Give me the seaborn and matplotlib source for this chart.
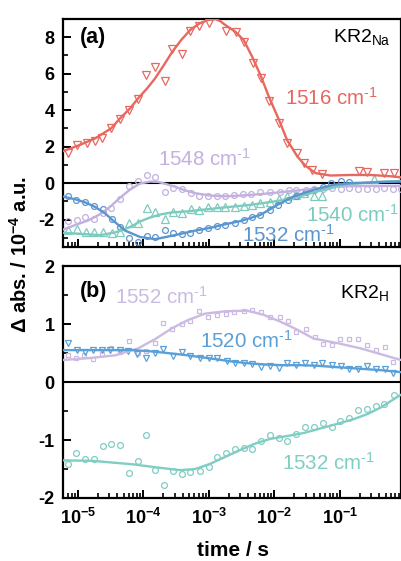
import numpy as np
import matplotlib
matplotlib.use('Agg')
import matplotlib.pyplot as plt
import seaborn as sns
from matplotlib.ticker import LogLocator, FuncFormatter, MultipleLocator, NullFormatter

sns.set_style('ticks')
plt.rcParams['font.family'] = ['Liberation Sans', 'DejaVu Sans']
plt.rcParams['mathtext.fontset'] = 'custom'
plt.rcParams['mathtext.rm'] = 'Liberation Sans'
plt.rcParams['mathtext.it'] = 'Liberation Sans:italic'
plt.rcParams['mathtext.bf'] = 'Liberation Sans:bold'
plt.rcParams['axes.unicode_minus'] = False
for k in ('text.color', 'axes.labelcolor', 'xtick.color', 'ytick.color', 'axes.edgecolor'):
    plt.rcParams[k] = 'black'

# ---------------- data (time as log10 seconds, values in 10^-4 a.u.) ----------------
# Panel (a) KR2_Na
a1516_pts_lt = [-5.149, -5.020, -4.867, -4.740, -4.637, -4.495, -4.357, -4.219, -4.077, -3.959, -3.821,
                -3.678, -3.556, -3.412, -3.285, -3.147, -3.005, -2.734, -2.585, -2.458, -2.331, -2.205,
                -2.075, -1.930, -1.804, -1.651, -1.540, -1.421, -1.268, -0.712, -0.579, -0.325, -0.172]
a1516_pts_v = [1.68, 2.10, 2.19, 2.33, 2.47, 3.01, 3.52, 4.02, 4.62, 5.93, 6.39, 5.62, 7.36, 7.07, 8.36,
               8.62, 8.77, 8.35, 8.29, 7.72, 6.61, 5.77, 4.48, 3.29, 2.19, 1.64, 1.08, 0.73, 0.49, 0.69,
               0.60, 0.55, 0.55]
a1516_fit_lt = [-5.230, -4.969, -4.740, -4.495, -4.357, -4.204, -4.081, -3.943, -3.821, -3.683, -3.560,
                -3.423, -3.285, -3.147, -3.009, -2.902, -2.825, -2.749, -2.596, -2.469, -2.340, -2.213,
                -2.085, -1.933, -1.804, -1.646, -1.524, -1.370, -1.141, -0.835, -0.528, -0.222, -0.069]
a1516_fit_v = [1.75, 2.1, 2.45, 3.0, 3.55, 4.1, 4.65, 5.2, 5.75, 6.5, 7.2, 7.85, 8.4, 8.75, 8.95, 9.0,
               8.88, 8.67, 8.3, 7.85, 6.94, 5.93, 4.75, 3.5, 2.35, 1.45, 0.95, 0.55, 0.42, 0.45, 0.45,
               0.38, 0.32]

a1548_pts_lt = [-5.149, -5.020, -4.893, -4.750, -4.613, -4.495, -4.357, -4.219, -4.086, -3.948, -3.821,
                -3.678, -3.541, -3.412, -3.277, -3.147, -3.014, -2.876, -2.749, -2.622, -2.478, -2.351,
                -2.213, -2.060, -1.917, -1.779, -1.662, -1.524, -1.397, -1.253, -1.126, -0.988, -0.861,
                -0.723, -0.585, -0.452, -0.329, -0.191, -0.069]
a1548_pts_v = [-2.1, -2.0, -1.86, -1.97, -1.61, -1.37, -0.88, -0.18, 0.14, 0.45, 0.33, -0.46, -0.27,
               -0.33, -0.55, -0.7, -0.7, -0.73, -0.68, -0.64, -0.6, -0.58, -0.51, -0.5, -0.46, -0.4,
               -0.37, -0.35, -0.33, -0.3, -0.28, -0.3, -0.27, -0.3, -0.33, -0.3, -0.27, -0.33, -0.33]
a1548_fit_lt = [-5.230, -5.046, -4.847, -4.663, -4.510, -4.357, -4.204, -4.051, -3.897, -3.775, -3.652,
                -3.515, -3.361, -3.208, -2.979, -2.749, -2.519, -2.213, -1.907, -1.600, -1.294, -0.988,
                -0.682, -0.375, -0.069]
a1548_fit_v = [-2.55, -2.3, -2.05, -1.7, -1.3, -0.8, -0.35, -0.02, 0.09, 0.07, -0.05, -0.2, -0.4, -0.55,
               -0.68, -0.72, -0.68, -0.6, -0.5, -0.38, -0.27, -0.18, -0.15, -0.15, -0.15]

a1532_pts_lt = [-5.158, -5.035, -4.893, -4.750, -4.613, -4.484, -4.357, -4.219, -4.086, -3.948, -3.821,
                -3.678, -3.541, -3.412, -3.285, -3.147, -3.014, -2.876, -2.749, -2.596, -2.469, -2.340,
                -2.213, -2.070, -1.937, -1.799, -1.662, -1.524, -1.401, -1.263, -1.141, -0.988, -0.861]
a1532_pts_v = [-0.7, -0.9, -1.05, -1.24, -1.42, -1.97, -2.4, -2.98, -3.2, -2.89, -2.93, -2.56, -2.74,
               -2.78, -2.74, -2.56, -2.47, -2.34, -2.28, -2.16, -2.01, -1.86, -1.74, -1.46, -1.2, -0.95,
               -0.7, -0.5, -0.35, -0.2, 0.0, 0.14, 0.09]
a1532_fit_lt = [-5.230, -5.046, -4.893, -4.740, -4.587, -4.479, -4.280, -4.051, -3.821, -3.560, -3.208,
                -2.979, -2.749, -2.519, -2.213, -1.953, -1.708, -1.402, -1.095, -0.835, -0.574, -0.299,
                -0.069]
a1532_fit_v = [-0.73, -0.88, -1.05, -1.3, -1.65, -2.0, -2.6, -2.95, -3.07, -2.88, -2.6, -2.45, -2.25,
               -2.08, -1.74, -1.19, -0.73, -0.37, -0.09, 0.0, 0.03, 0.07, 0.09]

a1540_pts_lt = [-5.158, -5.020, -4.882, -4.750, -4.613, -4.484, -4.357, -4.219, -4.086, -3.948, -3.821,
                -3.678, -3.541, -3.412, -3.270, -3.147, -3.014, -2.876, -2.749, -2.596, -2.469, -2.340,
                -2.213, -2.070, -1.933, -1.804, -1.677, -1.549, -1.397, -1.268, -0.478]
a1540_pts_v = [-2.56, -2.52, -2.65, -2.65, -2.7, -2.74, -2.65, -2.19, -2.19, -1.37, -1.56, -1.97, -1.56,
               -1.64, -1.42, -1.46, -1.28, -1.32, -1.32, -1.28, -1.24, -1.19, -1.1, -1.01, -0.88, -0.73,
               -0.64, -0.55, -0.7, -0.73, 0.22]
a1540_fit_lt = [-5.230, -4.969, -4.663, -4.433, -4.311, -4.173, -4.051, -3.897, -3.744, -3.560, -3.331,
                -3.132, -2.871, -2.596, -2.366, -2.090, -1.861, -1.646, -1.492, -1.340, -1.187, -0.942,
                -0.682, -0.375, -0.069]
a1540_fit_v = [-2.72, -2.78, -2.85, -2.7, -2.56, -2.35, -2.1, -1.88, -1.72, -1.6, -1.55, -1.47, -1.37,
               -1.27, -1.19, -1.05, -0.92, -0.75, -0.6, -0.45, -0.33, -0.09, 0.0, 0.08, 0.12]

# Panel (b) KR2_H
b1552_pts_lt = [-5.158, -5.035, -4.904, -4.766, -4.637, -4.495, -4.357, -4.219, -4.086, -3.963, -3.821,
                -3.694, -3.556, -3.412, -3.285, -3.147, -3.014, -2.876, -2.738, -2.611, -2.469, -2.340,
                -2.202, -2.060, -1.917, -1.795, -1.662, -1.524, -1.386, -1.253, -1.115, -0.998, -0.861,
                -0.723, -0.579, -0.452, -0.314, -0.181]
b1552_pts_v = [0.46, 0.42, 0.46, 0.39, 0.48, 0.58, 0.52, 0.71, 0.5, 0.54, 0.68, 1.02, 0.92, 1.0, 1.06,
               1.22, 1.12, 1.16, 1.18, 1.2, 1.23, 1.25, 1.2, 1.12, 1.12, 1.06, 0.87, 0.91, 0.78, 0.66,
               0.64, 0.74, 0.74, 0.75, 0.64, 0.55, 0.6, 0.35]
b1552_fit_lt = [-5.230, -4.847, -4.433, -4.081, -3.821, -3.560, -3.315, -3.055, -2.749, -2.412, -2.167,
                -1.907, -1.646, -1.401, -1.034, -0.682, -0.375, -0.069]
b1552_fit_v = [0.38, 0.41, 0.46, 0.58, 0.74, 0.93, 1.07, 1.18, 1.22, 1.23, 1.16, 1.04, 0.9, 0.75, 0.67,
               0.58, 0.48, 0.38]

b1520_pts_lt = [-5.149, -5.020, -4.893, -4.766, -4.637, -4.510, -4.357, -4.230, -4.092, -3.963, -3.821,
                -3.694, -3.550, -3.412, -3.285, -3.142, -3.005, -2.876, -2.723, -2.596, -2.469, -2.340,
                -2.198, -2.070, -1.933, -1.804, -1.666, -1.534, -1.397, -1.268, -1.126, -0.988, -0.861,
                -0.723, -0.579, -0.452, -0.309, -0.181]
b1520_pts_v = [0.67, 0.55, 0.52, 0.56, 0.55, 0.56, 0.56, 0.54, 0.48, 0.42, 0.5, 0.57, 0.45, 0.52, 0.45,
               0.42, 0.41, 0.41, 0.36, 0.32, 0.33, 0.31, 0.26, 0.28, 0.25, 0.32, 0.3, 0.32, 0.29, 0.32,
               0.3, 0.27, 0.22, 0.22, 0.27, 0.23, 0.22, 0.16]
b1520_fit_lt = [-5.230, -4.663, -4.158, -3.897, -3.637, -3.392, -3.132, -2.871, -2.626, -2.366, -2.106,
                -1.861, -1.600, -1.340, -1.095, -0.835, -0.574, -0.329, -0.069]
b1520_fit_v = [0.55, 0.55, 0.55, 0.53, 0.5, 0.47, 0.43, 0.39, 0.35, 0.32, 0.3, 0.29, 0.29, 0.28, 0.26,
               0.24, 0.22, 0.2, 0.17]

b1532_pts_lt = [-5.158, -5.031, -4.893, -4.755, -4.622, -4.495, -4.357, -4.219, -4.086, -3.959, -3.821,
                -3.683, -3.550, -3.412, -3.285, -3.142, -3.005, -2.876, -2.734, -2.596, -2.469, -2.340,
                -2.198, -2.070, -1.933, -1.800, -1.662, -1.529, -1.391, -1.261, -1.122, -0.993, -0.854,
                -0.716, -0.579, -0.452, -0.319, -0.172]
b1532_pts_v = [-1.41, -1.23, -1.32, -1.32, -1.11, -1.07, -1.09, -1.57, -1.37, -0.91, -1.51, -1.78, -1.54,
               -1.58, -1.55, -1.54, -1.47, -1.30, -1.23, -1.16, -1.13, -1.15, -1.01, -0.91, -0.96, -1.01,
               -0.90, -0.77, -0.77, -0.70, -0.77, -0.68, -0.62, -0.49, -0.46, -0.41, -0.38, -0.23]
b1532_fit_lt = [-5.230, -4.770, -4.158, -3.744, -3.438, -3.208, -2.979, -2.749, -2.519, -2.289, -2.060,
                -1.799, -1.554, -1.294, -1.034, -0.789, -0.574, -0.375, -0.222, -0.069]
b1532_fit_v = [-1.35, -1.36, -1.42, -1.48, -1.52, -1.5, -1.41, -1.29, -1.17, -1.06, -0.98, -0.93, -0.88,
               -0.8, -0.72, -0.64, -0.55, -0.44, -0.33, -0.22]

# ---------------- colours ----------------
C_RED = '#E8675E'
C_LAV = '#C2B1DF'
C_BLUE = '#5B95D0'
C_CYAN = '#7DCBBE'
C_BLUE_B = '#5AA0D8'
C_LAV_B = '#CBBBE3'
C_CYAN_B = '#80CDC3'


def curve(ax, lt, v, color, lw=1.7):
    sns.lineplot(x=10 ** np.asarray(lt), y=v, ax=ax, color=color, lw=lw,
                 errorbar=None, sort=False, zorder=4)


def pts(ax, lt, v, color, marker, ms):
    sns.lineplot(x=10 ** np.asarray(lt), y=v, ax=ax, color=color, linestyle='none',
                 marker=marker, markersize=ms, markerfacecolor='none',
                 markeredgecolor=color, markeredgewidth=0.9,
                 errorbar=None, sort=False, zorder=3)


fig = plt.figure(figsize=(4.01, 5.61), dpi=100)
axA = fig.add_axes([0.157, 0.5597, 0.843, 0.4064])
axB = fig.add_axes([0.157, 0.1123, 0.843, 0.4135])

for ax in (axA, axB):
    ax.set_xscale('log')
    ax.axhline(0, color='black', lw=1.5, zorder=2)

# panel a
pts(axA, a1548_pts_lt, a1548_pts_v, C_LAV, 'o', 4.2)
pts(axA, a1540_pts_lt, a1540_pts_v, C_CYAN, '^', 5.2)
pts(axA, a1532_pts_lt, a1532_pts_v, C_BLUE, 'o', 4.2)
pts(axA, a1516_pts_lt, a1516_pts_v, C_RED, 'v', 5.5)
curve(axA, a1548_fit_lt, a1548_fit_v, C_LAV)
curve(axA, a1540_fit_lt, a1540_fit_v, C_CYAN)
curve(axA, a1532_fit_lt, a1532_fit_v, C_BLUE)
curve(axA, a1516_fit_lt, a1516_fit_v, C_RED)

# panel b
pts(axB, b1552_pts_lt, b1552_pts_v, C_LAV_B, 's', 3.0)
pts(axB, b1520_pts_lt, b1520_pts_v, C_BLUE_B, 'v', 5.0)
pts(axB, b1532_pts_lt, b1532_pts_v, C_CYAN_B, 'o', 4.2)
curve(axB, b1552_fit_lt, b1552_fit_v, C_LAV_B)
curve(axB, b1520_fit_lt, b1520_fit_v, C_BLUE_B)
curve(axB, b1532_fit_lt, b1532_fit_v, C_CYAN_B)

xmin, xmax = 5.9e-6, 0.86
axA.set_ylim(-3.5, 9.0)
axB.set_ylim(-2.0, 2.0)
axA.yaxis.set_major_locator(MultipleLocator(2))
axA.yaxis.set_minor_locator(MultipleLocator(1))
axB.yaxis.set_major_locator(MultipleLocator(1))
axB.yaxis.set_minor_locator(MultipleLocator(0.5))

fmt = FuncFormatter(lambda val, pos: r'$\mathbf{10^{%d}}$' % int(round(np.log10(val))))
for ax in (axA, axB):
    ax.set_xlim(xmin, xmax)
    ax.xaxis.set_major_locator(LogLocator(base=10, numticks=20))
    ax.xaxis.set_minor_locator(LogLocator(base=10, subs=np.arange(2, 10), numticks=20))
    ax.xaxis.set_minor_formatter(NullFormatter())
    ax.xaxis.set_major_formatter(fmt)
    ax.tick_params(which='both', direction='in', top=False, right=False, width=1.4,
                   labelsize=13, pad=6, colors='black')
    ax.tick_params(which='major', length=6)
    ax.tick_params(which='minor', length=3.5, width=1.2)
    ax.set_xlabel('')
    ax.set_ylabel('')
    for s in ax.spines.values():
        s.set_linewidth(1.6)
        s.set_color('black')
        s.set_visible(True)
    for lab in ax.get_yticklabels():
        lab.set_fontweight('bold')
axA.tick_params(labelbottom=False)
axB.tick_params(axis='x', pad=7)

WN = r'%s cm$^{\text{-}1}$'
WN_FS = 14.8

# annotations
axA.text(0.05, 0.921, '(a)', transform=axA.transAxes, fontsize=15.5, fontweight='bold',
         ha='left', va='center')
axA.text(0.97, 0.921, r'KR2$_{\rm Na}$', transform=axA.transAxes, fontsize=14,
         ha='right', va='center')
axA.text(0.932, 0.653, WN % '1516', transform=axA.transAxes, fontsize=WN_FS,
         color=C_RED, ha='right', va='center')
axA.text(0.282, 0.385, WN % '1548', transform=axA.transAxes, fontsize=WN_FS,
         color=C_LAV, ha='left', va='center')
axA.text(0.718, 0.140, WN % '1540', transform=axA.transAxes, fontsize=WN_FS,
         color=C_CYAN, ha='left', va='center')
axA.text(0.529, 0.053, WN % '1532', transform=axA.transAxes, fontsize=WN_FS,
         color=C_BLUE, ha='left', va='center')

axB.text(0.05, 0.889, '(b)', transform=axB.transAxes, fontsize=15.5, fontweight='bold',
         ha='left', va='center')
axB.text(0.964, 0.885, r'KR2$_{\rm H}$', transform=axB.transAxes, fontsize=14,
         ha='right', va='center')
axB.text(0.154, 0.866, WN % '1552', transform=axB.transAxes, fontsize=WN_FS,
         color=C_LAV_B, ha='left', va='center')
axB.text(0.404, 0.679, WN % '1520', transform=axB.transAxes, fontsize=WN_FS,
         color=C_BLUE_B, ha='left', va='center')
axB.text(0.649, 0.150, WN % '1532', transform=axB.transAxes, fontsize=WN_FS,
         color=C_CYAN_B, ha='left', va='center')

fig.text(0.05, 0.546, r'Δ abs. / 10$^{\mathbf{-4}}$ a.u.', rotation=90, fontweight='bold',
         fontsize=14.5, ha='center', va='center')
fig.text(0.581, 0.018, 'time / s', fontweight='bold', fontsize=15, ha='center', va='center')

fig.savefig('out.png', dpi=100)
